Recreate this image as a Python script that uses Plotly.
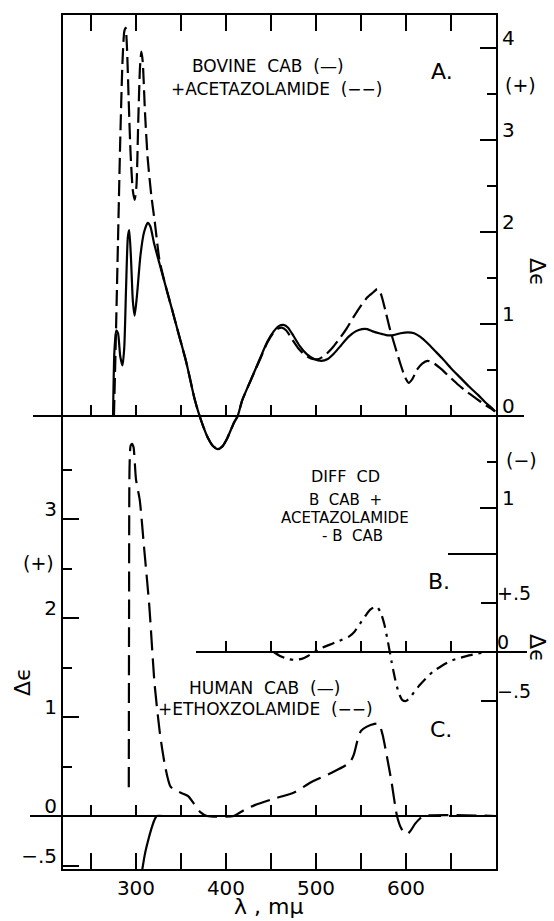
import plotly.graph_objects as go

# ---------------- data (wavelength in m\u03bc, \u0394\u03b5) ----------------
# Panel A: bovine CAB (solid) and + acetazolamide (dashed)  -> right axis, upper scale
a_solid_wl = [274.5, 276, 278, 280, 282.5, 285, 287, 289, 291, 292.5, 294.5, 296.5, 298.5, 301, 305, 309, 313,
              316, 320, 326, 333, 340, 348, 356, 365, 370, 375, 380, 385, 391, 396, 401, 405, 409, 413, 418,
              428, 438, 446, 453, 459, 464, 469, 475, 482, 490, 498, 506, 513, 520, 528, 536, 544, 551, 557,
              563, 570, 578, 586, 594, 602, 609, 616, 624, 632, 640, 650, 660, 670, 680, 688, 696, 699]
a_solid_de = [0.0, 0.7, 0.93, 0.9, 0.65, 0.55, 0.75, 1.4, 1.95, 2.02, 1.7, 1.25, 1.09, 1.3, 1.75, 2.0, 2.1,
              2.06, 1.88, 1.66, 1.41, 1.16, 0.87, 0.58, 0.19, 0.02, -0.12, -0.24, -0.32, -0.36, -0.33, -0.25,
              -0.16, -0.07, 0.0, 0.17, 0.4, 0.63, 0.81, 0.92, 0.98, 0.99, 0.96, 0.87, 0.76, 0.67, 0.62, 0.6,
              0.62, 0.68, 0.77, 0.86, 0.92, 0.945, 0.945, 0.92, 0.9, 0.88, 0.88, 0.9, 0.91, 0.9, 0.86, 0.79,
              0.71, 0.63, 0.52, 0.42, 0.32, 0.23, 0.15, 0.08, 0.05]
a_dash_wl = [275.5, 277.5, 280, 282.5, 285, 287, 288.5, 290, 292, 294, 296.5, 298.5, 300.5, 302.5, 304.5, 306,
             307.5, 310, 313, 317, 321, 326, 333, 340, 348, 356, 365, 370, 375, 380, 385, 391, 396, 401, 405,
             409, 413, 418, 428, 438, 446, 453, 458, 462, 467, 473, 480, 488, 496, 503, 510, 518, 526, 534,
             542, 550, 557, 563, 568, 572, 577, 582, 588, 594, 599, 603, 607, 612, 618, 624, 630, 638, 648,
             658, 668, 678, 688, 696, 699]
a_dash_de = [0.0, 0.8, 1.9, 3.0, 3.85, 4.18, 4.22, 4.0, 3.4, 2.85, 2.45, 2.35, 2.5, 3.2, 3.8, 3.96, 3.85, 3.3,
             2.8, 2.4, 2.1, 1.7, 1.41, 1.16, 0.87, 0.58, 0.19, 0.02, -0.12, -0.24, -0.32, -0.36, -0.33, -0.25,
             -0.16, -0.07, 0.0, 0.17, 0.4, 0.62, 0.8, 0.91, 0.95, 0.96, 0.93, 0.84, 0.74, 0.66, 0.62, 0.62,
             0.66, 0.74, 0.84, 0.95, 1.08, 1.2, 1.29, 1.34, 1.38, 1.33, 1.15, 0.95, 0.75, 0.56, 0.42, 0.36,
             0.4, 0.5, 0.57, 0.6, 0.58, 0.52, 0.43, 0.34, 0.26, 0.19, 0.12, 0.07, 0.05]

# Panel B: difference CD (B CAB + acetazolamide - B CAB), dash-dot -> right axis, middle scale
b_wl = [453, 460, 468, 476, 484, 491, 498, 506, 514, 522, 530, 537, 543, 549, 555, 560, 565, 568, 572, 576,
        580, 584, 588, 592, 596, 600, 604, 609, 615, 622, 630, 640, 650, 660, 670, 680, 690]
b_de = [0.0, -0.04, -0.07, -0.08, -0.07, -0.04, 0.0, 0.04, 0.07, 0.1, 0.13, 0.16, 0.21, 0.29, 0.37, 0.43,
        0.46, 0.46, 0.4, 0.28, 0.1, -0.1, -0.28, -0.42, -0.49, -0.5, -0.47, -0.41, -0.34, -0.27, -0.2,
        -0.14, -0.09, -0.06, -0.035, -0.015, 0.0]

# Panel C: human CAB (solid) and + ethoxzolamide (dashed) -> left axis
c_solid_wl = [307, 310, 313.7, 317.4, 320.5, 323, 330]
c_solid_de = [-0.54, -0.38, -0.24, -0.12, -0.04, 0.0, 0.0]
c_dash_wl = [292.0, 292.3, 292.8, 294, 295.5, 297.2, 300, 304.2, 308.9, 314.8, 320.6, 326.5, 332.4, 338.2,
             346, 353.8, 358, 363.6, 367.5, 371.4, 379, 408.5, 420, 432, 451.5, 475, 494.5, 518, 537.5, 542,
             546, 550, 556, 565, 570, 574, 578, 584, 590, 595, 601, 605, 610, 615, 620, 700]
c_dash_de = [0.29, 2.0, 3.5, 3.74, 3.76, 3.73, 3.4, 3.19, 2.72, 2.12, 1.34, 0.84, 0.5, 0.3, 0.25, 0.22, 0.2,
             0.134, 0.08, 0.04, 0.0, 0.0, 0.06, 0.11, 0.17, 0.235, 0.34, 0.44, 0.54, 0.62, 0.76, 0.86, 0.9,
             0.93, 0.93, 0.82, 0.64, 0.34, 0.0, -0.13, -0.185, -0.15, -0.08, -0.03, 0.0, 0.0]

# ticks
x_tickvals = [250, 300, 350, 400, 450, 500, 550, 600, 650]
x_ticktext = ["", "300", "", "400", "", "500", "", "600", ""]
b_base_tickvals = [400, 450, 500, 550, 600, 650]
a_major_vals = [4, 3, 2, 1, 0, -1]
a_major_text = ["4", "3", "2", "1", "0", "1"]
a_minor_vals = [3.5, 2.5, 1.5, 0.5, -0.5]
b_major_vals = [0.5, 0, -0.5]
b_major_text = ["+.5", "0", "\u2212.5"]
c_major_vals = [3, 2, 1, 0, -0.5]
c_major_text = ["3", "2", "1", "0", "\u2212.5"]
c_minor_vals = [3.5, 2.5, 1.5, 0.5]

# ---------------- geometry ----------------
W, H = 554, 921
ML, MR, MT, MB = 63, 58, 15, 52
XR = [218.9, 700.0]
A_R = [-4.924, 4.359]
B_R = [-2.2143, 6.5]
C_R = [-0.5354, 8.0909]
PH = H - MT - MB
PW = W - ML - MR


def py(pix_y):
    return (H - MB - pix_y) / PH


def px(pix_x):
    return (pix_x - ML) / PW


FONT = "DejaVu Sans"
BLK = "black"
SHIFT = -10

fig = go.Figure()
line_common = dict(color=BLK, width=2.2, shape="spline", smoothing=0.6)
fig.add_trace(go.Scatter(x=a_solid_wl, y=a_solid_de, xaxis="x2", yaxis="y2", mode="lines",
                         line=dict(**line_common), name="Bovine CAB", showlegend=False, hoverinfo="skip"))
fig.add_trace(go.Scatter(x=a_dash_wl, y=a_dash_de, xaxis="x2", yaxis="y2", mode="lines",
                         line=dict(**line_common, dash="16px,6px"), name="+ Acetazolamide",
                         showlegend=False, hoverinfo="skip"))
fig.add_trace(go.Scatter(x=b_wl, y=b_de, xaxis="x3", yaxis="y3", mode="lines",
                         line=dict(**line_common, dash="12px,6px,3px,6px"), name="Diff CD",
                         showlegend=False, hoverinfo="skip"))
fig.add_trace(go.Scatter(x=c_solid_wl, y=c_solid_de, xaxis="x", yaxis="y", mode="lines",
                         line=dict(**line_common), name="Human CAB", showlegend=False, hoverinfo="skip"))
fig.add_trace(go.Scatter(x=c_dash_wl, y=c_dash_de, xaxis="x4", yaxis="y", mode="lines",
                         line=dict(**line_common, dash="20px,8px"), name="+ Ethoxzolamide",
                         showlegend=False, hoverinfo="skip"))

base_x = dict(range=XR, showgrid=False, zeroline=False, showline=False, showticklabels=False,
              ticks="inside", ticklen=11, tickwidth=2, tickcolor=BLK, overlaying="x",
              anchor="free", side="bottom")

fig.update_layout(
    width=W, height=H, autosize=False,
    margin=dict(l=ML, r=MR, t=MT, b=MB, pad=0),
    paper_bgcolor="white", plot_bgcolor="white",
    font=dict(family=FONT, color=BLK, size=16),
    showlegend=False,
    xaxis=dict(range=XR, domain=[0, 1], anchor="y", showline=True, linecolor=BLK, linewidth=2,
               mirror="allticks", ticks="inside", ticklen=16, tickwidth=2, tickcolor=BLK,
               tickmode="array", tickvals=x_tickvals, ticktext=x_ticktext,
               tickfont=dict(size=20), showgrid=False, zeroline=False),
    xaxis2=dict(**base_x, position=py(416), tickvals=x_tickvals),
    xaxis3=dict(**base_x, position=py(652), tickvals=b_base_tickvals),
    xaxis4=dict(**base_x, position=py(816), tickvals=x_tickvals),
    yaxis=dict(range=C_R, anchor="x", side="left", showline=True, linecolor=BLK, linewidth=2,
               ticks="inside", ticklen=16, tickwidth=2, tickcolor=BLK,
               tickmode="array", tickvals=c_major_vals, ticktext=c_major_text,
               minor=dict(tickmode="array", tickvals=c_minor_vals, ticks="inside", ticklen=9,
                          tickwidth=2, tickcolor=BLK, showgrid=False),
               ticklabelshift=SHIFT, tickfont=dict(size=20), showgrid=False, zeroline=False),
    yaxis2=dict(range=A_R, overlaying="y", anchor="x", side="right", showline=True, linecolor=BLK,
                linewidth=2, ticks="inside", ticklen=16, tickwidth=2, tickcolor=BLK,
                tickmode="array", tickvals=a_major_vals, ticktext=a_major_text,
                minor=dict(tickmode="array", tickvals=a_minor_vals, ticks="inside", ticklen=9,
                           tickwidth=2, tickcolor=BLK, showgrid=False),
                ticklabelshift=SHIFT, tickfont=dict(size=20), showgrid=False, zeroline=False),
    yaxis3=dict(range=B_R, overlaying="y", anchor="x", side="right", showline=False,
                ticks="inside", ticklen=15, tickwidth=2, tickcolor=BLK,
                tickmode="array", tickvals=b_major_vals, ticktext=b_major_text,
                ticklabelshift=SHIFT, tickfont=dict(size=19), showgrid=False, zeroline=False),
)

# baselines (zero lines extending past the frame) and the long tick
shapes = [
    dict(type="line", xref="paper", yref="y2", x0=px(33), x1=px(524), y0=0, y1=0,
         line=dict(color=BLK, width=2)),
    dict(type="line", xref="paper", yref="y3", x0=px(196), x1=px(527), y0=0, y1=0,
         line=dict(color=BLK, width=2)),
    dict(type="line", xref="paper", yref="y", x0=px(30), x1=px(441), y0=0, y1=0,
         line=dict(color=BLK, width=2)),
    dict(type="line", xref="paper", yref="y", x0=px(449), x1=1, y0=0, y1=0,
         line=dict(color=BLK, width=2)),
    dict(type="line", xref="paper", yref="y2", x0=px(448), x1=1, y0=-1.5, y1=-1.5,
         line=dict(color=BLK, width=2)),
]
fig.update_layout(shapes=shapes)

TXT = 17
TXT_B = 15
ann = [
    dict(text="BOVINE  CAB  (\u2014)", x=446.7, y=3.80, xref="x2", yref="y2", font=dict(size=TXT)),
    dict(text="+ACETAZOLAMIDE  (\u2212\u2212)", x=455.6, y=3.56, xref="x2", yref="y2", font=dict(size=TXT)),
    dict(text="A.", x=640, y=3.74, xref="x2", yref="y2", font=dict(size=22)),
    dict(text="DIFF  CD", x=533.3, y=1.786, xref="x3", yref="y3", font=dict(size=16)),
    dict(text="B  CAB  +", x=533.3, y=1.551, xref="x3", yref="y3", font=dict(size=TXT_B)),
    dict(text="ACETAZOLAMIDE", x=531.7, y=1.367, xref="x3", yref="y3", font=dict(size=TXT_B)),
    dict(text="- B  CAB", x=541, y=1.184, xref="x3", yref="y3", font=dict(size=TXT_B)),
    dict(text="B.", x=636.7, y=0.724, xref="x3", yref="y3", font=dict(size=22)),
    dict(text="HUMAN  CAB  (\u2014)", x=443.3, y=1.293, xref="x", yref="y", font=dict(size=TXT)),
    dict(text="+ETHOXZOLAMIDE  (\u2212\u2212)", x=444.4, y=1.076, xref="x", yref="y", font=dict(size=TXT)),
    dict(text="C.", x=638.9, y=0.874, xref="x", yref="y", font=dict(size=22)),
    dict(text="(+)", x=px(520), y=py(85), xref="paper", yref="paper", font=dict(size=19)),
    dict(text="(\u2212)", x=px(521), y=py(460), xref="paper", yref="paper", font=dict(size=19)),
    dict(text="(+)", x=px(38), y=py(563), xref="paper", yref="paper", font=dict(size=19)),
    dict(text="\u0394\u03f5", x=px(538), y=py(272), xref="paper", yref="paper", textangle=90,
         font=dict(size=22)),
    dict(text="\u0394\u03f5", x=px(538), y=py(648), xref="paper", yref="paper", textangle=90,
         font=dict(size=22)),
    dict(text="\u0394\u03f5", x=px(22), y=py(682), xref="paper", yref="paper", textangle=-90,
         font=dict(size=22)),
    dict(text="\u03bb , m\u03bc", x=px(268), y=py(906), xref="paper", yref="paper", font=dict(size=22)),
]
for a in ann:
    a.update(showarrow=False, xanchor="center", yanchor="middle")
fig.update_layout(annotations=ann)

fig.write_html("out.html", config={"displayModeBar": False},
               post_script="document.body.style.margin='0';document.body.style.overflow='hidden';")
